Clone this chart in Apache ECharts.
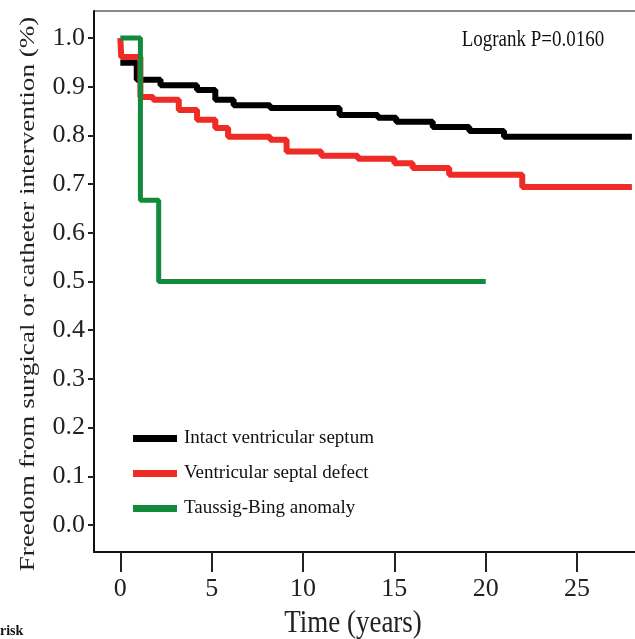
<!DOCTYPE html>
<html><head><meta charset="utf-8">
<script src="https://cdn.jsdelivr.net/npm/echarts@6/dist/echarts.min.js"></script>
<style>html,body{margin:0;padding:0;background:#fff}#c{width:635px;height:639px}</style>
</head><body><div id="c"></div>
<script>
const seriesNames = ['Intact ventricular septum', 'Ventricular septal defect', 'Taussig-Bing anomaly'];
const xTicks = [0, 5, 10, 15, 20, 25];
const yTicks = [0, 0.1, 0.2, 0.3, 0.4, 0.5, 0.6, 0.7, 0.8, 0.9, 1.0];
const intactTimes = [0, 0.9, 2.2, 4.2, 5.2, 6.2, 8.2, 12.0, 14.1, 15.1, 17.1, 19.1, 21.0, 28];
const intactSurv  = [0.949, 0.914, 0.903, 0.893, 0.873, 0.862, 0.856, 0.842, 0.836, 0.828, 0.817, 0.809, 0.797, 0.797];
const vsdTimes = [0, 0.05, 1.1, 1.8, 3.2, 4.2, 5.2, 5.9, 8.2, 9.1, 11.0, 13.0, 15.0, 16.0, 18.0, 22.0, 28];
const vsdSurv  = [1.0, 0.961, 0.879, 0.873, 0.852, 0.832, 0.815, 0.797, 0.791, 0.767, 0.758, 0.752, 0.743, 0.733, 0.719, 0.694, 0.694];
const tbTimes = [0, 1.1, 2.1, 20];
const tbSurv  = [1.0, 0.667, 0.5, 0.5];
const pText = 'Logrank P=0.0160';
const xTitle = 'Time (years)';
const yTitle = 'Freedom from surgical or catheter intervention (%)';

const colors = ['#000000', '#ee2b24', '#128a3c'];
const serif = '"Liberation Serif", "DejaVu Serif", serif';
const zip = (a, b) => a.map((t, i) => [t, b[i]]);

const chart = echarts.init(document.getElementById('c'));
chart.setOption({
  animation: false,
  color: colors,
  grid: { left: 94, right: 0, top: 11, bottom: 87, containLabel: false },
  xAxis: {
    type: 'value', min: -1.44, max: 28.17,
    splitLine: { show: false },
    axisLine: { onZero: false, lineStyle: { color: '#111', width: 2 } },
    axisTick: { length: 20, lineStyle: { color: '#222', width: 2 }, customValues: xTicks },
    axisLabel: { customValues: xTicks, margin: 24, fontFamily: serif, fontSize: 26, color: '#222' }
  },
  yAxis: {
    type: 'value', min: -0.0554, max: 1.0554,
    splitLine: { show: false },
    axisLine: { show: true, onZero: false, lineStyle: { color: '#111', width: 2 } },
    axisTick: { show: true, length: 6, lineStyle: { color: '#222', width: 2 }, customValues: yTicks },
    axisLabel: { customValues: yTicks, margin: 9, fontFamily: serif, fontSize: 26, color: '#222',
      formatter: v => v.toFixed(1) }
  },
  legend: {
    orient: 'vertical', left: 128, top: 424, itemGap: 16,
    itemWidth: 44, itemHeight: 7, icon: 'rect',
    textStyle: { fontFamily: serif, fontSize: 19, color: '#111', padding: [0, 0, 0, 2] },
    data: seriesNames
  },
  series: [
    { name: seriesNames[0], type: 'line', step: 'end', showSymbol: false, data: zip(intactTimes, intactSurv), lineStyle: { width: 6, color: colors[0] }, z: 2 },
    { name: seriesNames[1], type: 'line', step: 'end', showSymbol: false, data: zip(vsdTimes, vsdSurv), lineStyle: { width: 6, color: colors[1] }, z: 3 },
    { name: seriesNames[2], type: 'line', step: 'end', showSymbol: false, data: zip(tbTimes, tbSurv), lineStyle: { width: 5, color: colors[2] }, z: 4 }
  ],
  graphic: [
    { type: 'line', shape: { x1: 94, y1: 11, x2: 635, y2: 11 }, style: { stroke: '#8a8a8a', lineWidth: 2 } },
    { type: 'text', x: 533, y: 40, scaleY: 1.25, style: { text: pText, font: '19px ' + serif, fill: '#111', align: 'center', verticalAlign: 'middle' } },
    { type: 'text', x: 353, y: 624, scaleY: 1.15, style: { text: xTitle, font: '27px ' + serif, fill: '#222', align: 'center', verticalAlign: 'middle' } },
    { type: 'text', x: 28, y: 294, rotation: Math.PI / 2, scaleX: 1.29, style: { text: yTitle, font: '21px ' + serif, fill: '#222', align: 'center', verticalAlign: 'middle' } },
    { type: 'text', left: 0, top: 624, style: { text: 'risk', font: 'bold 14px ' + serif, fill: '#111' } }
  ]
});
</script></body></html>
